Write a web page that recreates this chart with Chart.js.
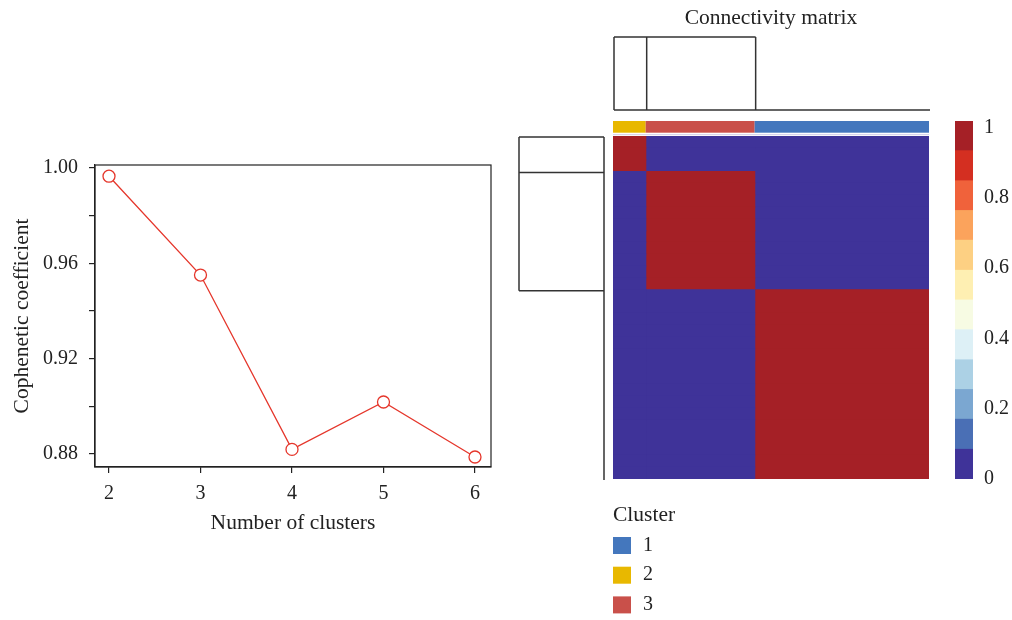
<!DOCTYPE html>
<html>
<head>
<meta charset="utf-8">
<script src="https://cdn.jsdelivr.net/npm/chart.js@4"></script>
<style>
  html, body { margin: 0; padding: 0; background: #fff; }
  body { width: 1012px; height: 620px; position: relative; overflow: hidden; }
  canvas { position: absolute; top: 0; }
</style>
</head>
<body>
<canvas id="cophenetic" width="510" height="620" style="left:0"></canvas>
<canvas id="connectivity" width="430" height="620" style="left:510px"></canvas>
<canvas id="colourKey" width="72" height="620" style="left:940px"></canvas>
<script>
// left panel: cophenetic coefficient by number of clusters
const clusterCounts = [2, 3, 4, 5, 6];
const copheneticValues = [0.9966, 0.9551, 0.8819, 0.9018, 0.8787];
const yTickValues = [0.88, 0.90, 0.92, 0.94, 0.96, 0.98, 1.00];
const yTickLabels = ["0.88", "", "0.92", "", "0.96", "", "1.00"];

// right panel: consensus matrix, samples ordered by cluster blocks
const clusterOrder = ["2", "3", "1"];
const clusterSizes = [3, 10, 16];
const blockConnectivity = [
	[1, 0, 0],
	[0, 1, 0],
	[0, 0, 1],
];
const clusterNames = ["1", "2", "3"];
const clusterColours = ["#4477bd", "#e8b800", "#c9504a"];

// dendrogram segments [pos0, height0, pos1, height1]
const colDendrogram = [[0, 0, 29, 0], [0, 0, 0, 1], [3, 0, 3, 1], [13, 0, 13, 1], [0, 1, 13, 1]];
const rowDendrogram = [[0, 0, 29, 0], [0, 0, 0, 1], [3, 0, 3, 1], [13, 0, 13, 1], [0, 1, 13, 1]];

// colour key
const keyBreaks = [0, 0.083, 0.167, 0.25, 0.333, 0.417, 0.5, 0.583, 0.667, 0.75, 0.833, 0.917, 1];
const keyColours = ["#3f3399", "#4a6fb5", "#7ba7d1", "#acd1e5", "#ddf0f6", "#f7fbe3",
	"#feefb2", "#fdd083", "#fba35c", "#f0623b", "#d42f21", "#a52026"];
const keyTicks = [0, 0.2, 0.4, 0.6, 0.8, 1];

const FONT = "'Liberation Serif', 'Times New Roman', serif";
const TEXT = "#222";
const font = { family: FONT, size: 20 };
const wordFont = { family: FONT, size: 21.5 };

function keyColour(v) {
	let i = keyBreaks.findIndex((b, k) => k > 0 && v <= b) - 1;
	if (v >= 1) i = keyColours.length - 1;
	return keyColours[Math.max(0, i)];
}

const boxPlugin = {
	id: "box",
	afterDraw(chart) {
		const { ctx, chartArea: a } = chart;
		ctx.save();
		ctx.strokeStyle = "#222";
		ctx.lineWidth = 1.2;
		ctx.strokeRect(a.left, a.top, a.right - a.left, a.bottom - a.top);
		ctx.restore();
	},
};

new Chart(document.getElementById("cophenetic"), {
	type: "line",
	data: {
		datasets: [
			{
				data: clusterCounts.map((k, i) => ({ x: k, y: copheneticValues[i] })),
				borderColor: "#e5362b",
				borderWidth: 1.3,
				pointRadius: 6,
				pointBackgroundColor: "#fff",
				pointBorderColor: "#e5362b",
				pointBorderWidth: 1.3,
				tension: 0,
			},
		],
	},
	options: {
		responsive: false,
		animation: false,
		layout: { padding: { left: 0, right: 19, top: 165, bottom: 83 } },
		plugins: { legend: { display: false }, tooltip: { enabled: false } },
		scales: {
			x: {
				type: "linear",
				min: 1.847,
				max: 6.175,
				afterBuildTicks: (s) => { s.ticks = clusterCounts.map((v) => ({ value: v })); },
				afterFit: (s) => { s.height = 70; },
				grid: { drawOnChartArea: false, tickLength: 6, color: "#222", lineWidth: 1.2 },
				border: { color: "#222", width: 1.2 },
				ticks: { font, color: TEXT, padding: 9, maxRotation: 0, autoSkip: false, callback: (v) => String(v) },
				title: { display: true, text: "Number of clusters", font: wordFont, color: TEXT, padding: { top: 0, bottom: 1 } },
			},
			y: {
				min: 0.8745,
				max: 1.0013,
				afterBuildTicks: (s) => { s.ticks = yTickValues.map((v) => ({ value: v })); },
				afterFit: (s) => { s.width = 95; },
				grid: { drawOnChartArea: false, tickLength: 6, color: "#222", lineWidth: 1.2 },
				border: { color: "#222", width: 1.2 },
				ticks: { font, color: TEXT, padding: 11, autoSkip: false, callback: (v, i) => yTickLabels[i] },
				title: { display: true, text: "Cophenetic coefficient", font: wordFont, color: TEXT, padding: { top: 9, bottom: 0 } },
			},
		},
	},
	plugins: [boxPlugin],
});

// rows of the matrix, one per sample
const rowBlock = [];
clusterSizes.forEach((n, b) => { for (let i = 0; i < n; i++) rowBlock.push(b); });
const sampleCount = rowBlock.length;
const rowLabels = rowBlock.map((b, i) => "S" + (i + 1));

const matrixDecor = {
	id: "matrixDecor",
	afterDraw(chart) {
		const { ctx, chartArea: a, scales } = chart;
		const xs = scales.x;
		const ys = scales.y;
		// row boundary p sits half a category before row p
		const rowEdge = (p) => ys.getPixelForValue(p - 0.5);
		ctx.save();

		// cluster annotation bar
		let start = 0;
		clusterOrder.forEach((c, j) => {
			const x0 = xs.getPixelForValue(start);
			const x1 = xs.getPixelForValue(start + clusterSizes[j]);
			ctx.fillStyle = clusterColours[clusterNames.indexOf(c)];
			ctx.fillRect(x0, a.top - 15, x1 - x0, 11.7);
			start += clusterSizes[j];
		});
		ctx.fillStyle = "#d9d5ec";
		ctx.fillRect(a.left, a.top - 2, a.right - a.left, 1.2);

		// dendrograms
		ctx.strokeStyle = "#333";
		ctx.lineWidth = 1.5;
		ctx.beginPath();
		colDendrogram.forEach(([p0, h0, p1, h1]) => {
			ctx.moveTo(xs.getPixelForValue(p0) + 1, a.top - 26 - h0 * 73);
			ctx.lineTo(xs.getPixelForValue(p1) + 1, a.top - 26 - h1 * 73);
		});
		rowDendrogram.forEach(([p0, h0, p1, h1]) => {
			ctx.moveTo(a.left - 9 - h0 * 85, rowEdge(p0) + 1);
			ctx.lineTo(a.left - 9 - h1 * 85, rowEdge(p1) + 1);
		});
		ctx.stroke();

		// title
		ctx.fillStyle = TEXT;
		ctx.font = "21.5px " + FONT;
		ctx.textAlign = "center";
		ctx.textBaseline = "middle";
		ctx.fillText("Connectivity matrix", (a.left + a.right) / 2, 18);

		// cluster legend
		ctx.textAlign = "left";
		ctx.fillText("Cluster", a.left, 515);
		ctx.font = "20px " + FONT;
		clusterNames.forEach((name, i) => {
			const y = 537 + i * 29.7;
			ctx.fillStyle = clusterColours[i];
			ctx.fillRect(a.left, y, 18, 17);
			ctx.fillStyle = TEXT;
			ctx.fillText(name, a.left + 30, y + 8.5);
		});
		ctx.restore();
	},
};

new Chart(document.getElementById("connectivity"), {
	type: "bar",
	data: {
		labels: rowLabels,
		datasets: clusterOrder.map((c, j) => ({
			label: "Cluster " + c,
			data: rowBlock.map(() => clusterSizes[j]),
			backgroundColor: rowBlock.map((b) => keyColour(blockConnectivity[b][j])),
			borderWidth: 0,
			inflateAmount: 0.6,
			barPercentage: 1,
			categoryPercentage: 1,
		})),
	},
	options: {
		indexAxis: "y",
		responsive: false,
		animation: false,
		layout: { padding: { left: 103, right: 11, top: 136, bottom: 141 } },
		plugins: { legend: { display: false }, tooltip: { enabled: false } },
		scales: {
			x: { type: "linear", stacked: true, min: 0, max: sampleCount, display: false },
			y: { type: "category", stacked: true, display: false },
		},
	},
	plugins: [matrixDecor],
});

new Chart(document.getElementById("colourKey"), {
	type: "bar",
	data: {
		labels: ["key"],
		datasets: keyColours.map((col, i) => ({
			data: [[keyBreaks[i], keyBreaks[i + 1]]],
			backgroundColor: col,
			borderWidth: 0,
			inflateAmount: 0.4,
			barPercentage: 1,
			categoryPercentage: 1,
			grouped: false,
		})),
	},
	options: {
		responsive: false,
		animation: false,
		layout: { padding: { left: 15, right: 0, top: 121, bottom: 141 } },
		plugins: { legend: { display: false }, tooltip: { enabled: false } },
		scales: {
			x: { display: false },
			y: { min: 0, max: 1, display: false },
			keyAxis: {
				axis: "y",
				position: "right",
				min: 0,
				max: 1.018,
				afterBuildTicks: (s) => { s.ticks = keyTicks.map((v) => ({ value: v })); },
				afterFit: (s) => { s.width = 39; },
				grid: { display: false, drawTicks: false, tickLength: 0 },
				border: { display: false },
				ticks: { font, color: TEXT, padding: 11, callback: (v) => String(v) },
			},
		},
	},
});
</script>
</body>
</html>
